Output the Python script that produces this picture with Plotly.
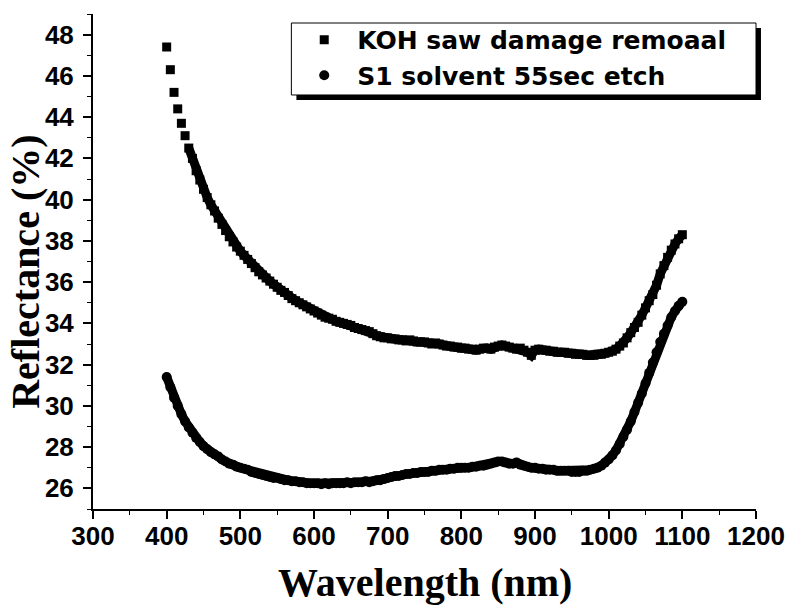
import plotly.graph_objects as go

# wavelength grid (nm), sampled every 5 nm
wavelength = list(range(400, 1101, 5))

koh_reflectance = [
    47.4, 46.3, 45.2, 44.4, 43.7, 43.1, 42.5, 42.0, 41.4, 40.95,
    40.5, 40.1, 39.75, 39.45, 39.1, 38.8, 38.5, 38.2, 37.95, 37.7,
    37.5, 37.3, 37.1, 36.9, 36.7, 36.5, 36.35, 36.2, 36.05, 35.9,
    35.75, 35.6, 35.5, 35.35, 35.2, 35.1, 35.0, 34.9, 34.8, 34.7,
    34.6, 34.5, 34.4, 34.3, 34.25, 34.2, 34.1, 34.05, 34.0, 33.95,
    33.9, 33.8, 33.75, 33.7, 33.65, 33.6, 33.5, 33.4, 33.35, 33.3,
    33.3, 33.25, 33.25, 33.2, 33.2, 33.15, 33.2, 33.15, 33.1, 33.1,
    33.1, 33.05, 33.0, 33.05, 33.0, 32.95, 32.9, 32.9, 32.85, 32.85,
    32.8, 32.8, 32.75, 32.75, 32.7, 32.75, 32.8, 32.8, 32.75, 32.85,
    32.9, 32.95, 32.9, 32.85, 32.8, 32.75, 32.8, 32.7, 32.6, 32.45,
    32.7, 32.75, 32.7, 32.7, 32.65, 32.65, 32.6, 32.6, 32.6, 32.55,
    32.55, 32.5, 32.5, 32.5, 32.45, 32.45, 32.45, 32.5, 32.5, 32.55,
    32.6, 32.65, 32.75, 32.9, 33.05, 33.3, 33.55, 33.8, 34.05, 34.4,
    34.75, 35.1, 35.4, 35.85, 36.4, 36.8, 37.2, 37.55, 37.85, 38.1,
    38.3,
]

s1_reflectance = [
    31.4, 30.9, 30.4, 30.0, 29.6, 29.25, 28.95, 28.7, 28.45, 28.25,
    28.05, 27.9, 27.75, 27.65, 27.55, 27.4, 27.3, 27.2, 27.15, 27.05,
    27.0, 26.95, 26.9, 26.8, 26.75, 26.7, 26.65, 26.6, 26.55, 26.5,
    26.5, 26.45, 26.4, 26.4, 26.35, 26.35, 26.3, 26.3, 26.25, 26.25,
    26.25, 26.25, 26.2, 26.25, 26.2, 26.25, 26.25, 26.25, 26.25, 26.3,
    26.25, 26.3, 26.3, 26.3, 26.35, 26.3, 26.35, 26.4, 26.4, 26.45,
    26.5, 26.55, 26.6, 26.6, 26.65, 26.7, 26.7, 26.75, 26.75, 26.8,
    26.8, 26.8, 26.85, 26.85, 26.9, 26.9, 26.9, 26.95, 26.95, 27.0,
    27.0, 27.0, 27.0, 27.05, 27.05, 27.1, 27.1, 27.15, 27.2, 27.25,
    27.3, 27.3, 27.25, 27.2, 27.2, 27.25, 27.15, 27.1, 27.05, 27.0,
    27.0, 26.95, 26.95, 26.9, 26.9, 26.9, 26.85, 26.85, 26.85, 26.85,
    26.8, 26.8, 26.8, 26.85, 26.85, 26.9, 26.95, 27.0, 27.1, 27.25,
    27.4, 27.6, 27.85, 28.15, 28.5, 28.85, 29.25, 29.7, 30.15, 30.6,
    31.1, 31.6, 32.1, 32.6, 33.1, 33.5, 33.9, 34.3, 34.6, 34.85,
    35.05,
]

x_ticks = [300, 400, 500, 600, 700, 800, 900, 1000, 1100, 1200]
y_ticks = [26, 28, 30, 32, 34, 36, 38, 40, 42, 44, 46, 48]

tick_font = dict(family="Liberation Sans", size=26, color="black", weight="bold")
title_font = dict(family="Liberation Serif", size=40, color="black", weight="bold")

fig = go.Figure()
# thick band behind the markers so dense parts read as one trace
fig.add_trace(go.Scatter(
    x=wavelength[6:], y=koh_reflectance[6:], mode="lines",
    line=dict(color="black", width=9), showlegend=False, hoverinfo="skip",
))
fig.add_trace(go.Scatter(
    x=wavelength, y=s1_reflectance, mode="lines",
    line=dict(color="black", width=9), showlegend=False, hoverinfo="skip",
))
fig.add_trace(go.Scatter(
    x=wavelength, y=koh_reflectance, mode="markers",
    name="KOH saw damage remoaal",
    marker=dict(symbol="square", size=9, color="black"),
))
fig.add_trace(go.Scatter(
    x=wavelength, y=s1_reflectance, mode="markers",
    name="S1 solvent 55sec etch",
    marker=dict(symbol="circle", size=10, color="black"),
))

axis_common = dict(
    showgrid=False, zeroline=False, showline=True, linecolor="black", linewidth=2,
    ticks="outside", tickcolor="black", tickwidth=2, ticklen=8,
    minor=dict(ticks="outside", ticklen=4, tickcolor="black", tickwidth=1),
    tickfont=tick_font,
)
fig.update_xaxes(range=[300, 1200], tickvals=x_ticks, ticklabelstandoff=-5,
                 minor_dtick=50, **axis_common)
fig.update_yaxes(range=[25, 49], tickvals=y_ticks, ticklabelstandoff=4,
                 minor_dtick=1, **axis_common)

# legend frame with drop shadow
fig.add_shape(type="rect", xref="paper", yref="paper",
              x0=0.3068, x1=1.0075, y0=0.8263, y1=0.9717,
              fillcolor="black", line_width=0, layer="above")
fig.add_shape(type="rect", xref="paper", yref="paper",
              x0=0.2992, x1=1.0, y0=0.8364, y1=0.9818,
              fillcolor="white", line=dict(color="black", width=1), layer="above")

fig.add_annotation(text="Wavelength (nm)", xref="paper", yref="paper",
                   x=0.5, y=-0.149, showarrow=False, font=title_font,
                   xanchor="center", yanchor="middle")
fig.add_annotation(text="Reflectance (%)", xref="paper", yref="paper",
                   x=-0.102, y=0.48, showarrow=False, font=title_font,
                   textangle=-90, xanchor="center", yanchor="middle")

fig.update_layout(
    width=797, height=611,
    margin=dict(l=93, r=39, t=14, b=102),
    plot_bgcolor="white", paper_bgcolor="white",
    showlegend=True,
    legend=dict(
        x=0.299, y=0.994, xanchor="left", yanchor="top",
        bgcolor="rgba(0,0,0,0)", borderwidth=0,
        font=dict(family="DejaVu Sans", size=25, color="black", weight="bold"),
        itemwidth=56, tracegroupgap=0,
    ),
)

fig.write_html("out.html", config={"displayModeBar": False},
               post_script="document.body.style.margin='0';")
